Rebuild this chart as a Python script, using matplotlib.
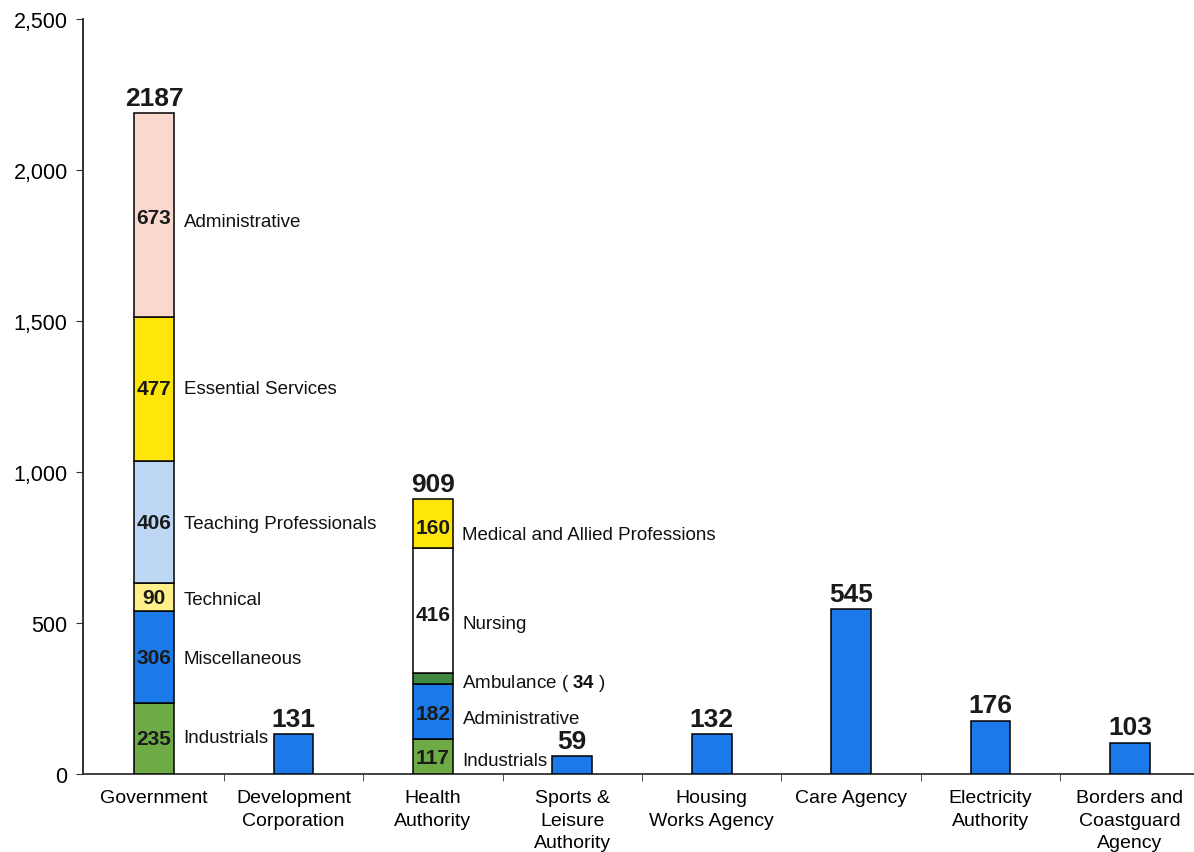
import numpy as np
import matplotlib.pyplot as plt

plt.rcParams['font.family'] = ['Liberation Sans', 'DejaVu Sans']
plt.rcParams['mathtext.fontset'] = 'custom'
plt.rcParams['mathtext.rm'] = 'Liberation Sans'
plt.rcParams['mathtext.bf'] = 'Liberation Sans:bold'

# employers along the x axis and their total headcount
employers = ["Government", "Development\nCorporation", "Health\nAuthority",
             "Sports &\nLeisure\nAuthority", "Housing\nWorks Agency", "Care Agency",
             "Electricity\nAuthority", "Borders and\nCoastguard\nAgency"]
totals = [2187, 131, 909, 59, 132, 545, 176, 103]

# Government breakdown, bottom to top
gov_groups = ["Industrials", "Miscellaneous", "Technical",
              "Teaching Professionals", "Essential Services", "Administrative"]
gov_values = [235, 306, 90, 406, 477, 673]

# Health Authority breakdown, bottom to top
health_groups = ["Industrials", "Administrative", "Ambulance",
                 "Nursing", "Medical and Allied Professions"]
health_values = [117, 182, 34, 416, 160]

blue = "#1C79E8"
gov_colors = ["#6EAA45", blue, "#FFF08C", "#BDD7F5", "#FFE60A", "#FAD8CE"]
health_colors = ["#6EAA45", blue, "#3F8A3F", "#FFFFFF", "#FFE60A"]
# small vertical nudges for the group names
gov_nudge = [5, -5, -8, -5, 0, -20]
health_nudge = [-15, -25, -12, -42, -35]

width = 0.285
fig = plt.figure(figsize=(11.94, 8.53), dpi=100)
ax = fig.add_axes([0.0695, 0.0914, 0.9305, 0.8852])

x = np.arange(len(employers))


def stacked(ax, xpos, values, colors, names, nudges):
    bottom = 0
    for i, (v, c, n) in enumerate(zip(values, colors, names)):
        ax.bar(xpos, v, width, bottom=bottom, color=c, edgecolor="black", linewidth=1.1, zorder=3)
        mid = bottom + v / 2
        if n == "Ambulance":
            ax.text(xpos + width / 2 + 0.07, mid + nudges[i], r"Ambulance ( $\mathbf{%d}$ )" % v,
                    fontsize=13.5, va="center", ha="left", color="#111")
        else:
            ax.text(xpos, mid + nudges[i] / 3, str(v), fontsize=15, fontweight="bold",
                    ha="center", va="center", color="#1a1a1a", zorder=4)
            ax.text(xpos + width / 2 + 0.07, mid + nudges[i], n, fontsize=13.5,
                    va="center", ha="left", color="#111")
        bottom += v


stacked(ax, x[0], gov_values, gov_colors, gov_groups, gov_nudge)
stacked(ax, x[2], health_values, health_colors, health_groups, health_nudge)

for i, t in enumerate(totals):
    if i not in (0, 2):
        ax.bar(x[i], t, width, color=blue, edgecolor="black", linewidth=1.1, zorder=3)
    ax.text(x[i], t + 12, str(t), fontsize=19, fontweight="bold", ha="center",
            va="bottom", color="#1a1a1a")

ax.set_xlim(-0.51, 7.46)
ax.set_ylim(0, 2500)
ax.set_yticks(np.arange(0, 2501, 500))
ax.set_yticklabels([f"{v:,}" for v in range(0, 2501, 500)], fontsize=15.5)

ax.set_xticks(x)
ax.set_xticklabels(employers, fontsize=14, linespacing=1.4)
ax.set_xticks(x[:-1] + 0.5, minor=True)
ax.tick_params(axis="x", which="major", length=0, pad=11)
ax.tick_params(axis="x", which="minor", length=5, direction="out", color="#333")
ax.tick_params(axis="y", length=5, direction="out", color="#333", pad=6)

for s in ("top", "right"):
    ax.spines[s].set_visible(False)
ax.spines["left"].set_color("#222")
ax.spines["bottom"].set_color("#333")
ax.spines["left"].set_linewidth(1.3)
ax.spines["bottom"].set_linewidth(1.3)

fig.savefig("out.png", dpi=100)
